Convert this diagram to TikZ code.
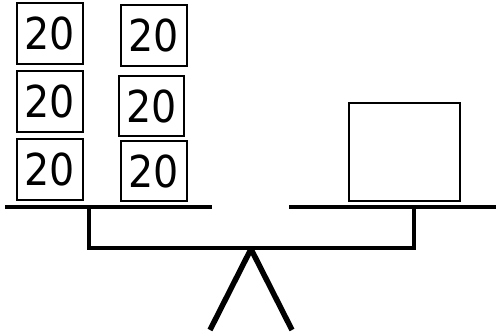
\documentclass[tikz,border=0pt]{standalone}
\usepackage{fontspec}
\setmainfont{DejaVu Sans Condensed}
\begin{document}
\begin{tikzpicture}[x=1pt,y=-1pt,
  weight/.style={draw,line width=1.4pt,inner sep=0pt,font=\fontsize{44}{44}\selectfont},
  beam/.style={line width=4.2pt},
  leg/.style={line width=5.5pt,line join=bevel}]
\useasboundingbox (0,0) rectangle (496,334);
\node[weight,minimum width=66,minimum height=61] (a1) at (50,33.5) {20};
\node[weight,minimum width=66,minimum height=61] (a2) at (50,101.5) {20};
\node[weight,minimum width=66,minimum height=61] (a3) at (50,169.5) {20};
\node[weight,minimum width=66,minimum height=61] (b1) at (154,35.5) {20};
\node[weight,minimum width=65,minimum height=60] (b2) at (151.5,106) {20};
\node[weight,minimum width=66,minimum height=60] (b3) at (154,171) {20};
\node[draw,line width=1.4pt,minimum width=111,minimum height=98,inner sep=0pt] (big) at (404.5,152) {};
\coordinate (ll) at (5,207.3);
\coordinate (lr) at (212,207.3);
\coordinate (rl) at (289,207.3);
\coordinate (rr) at (496,207.3);
\coordinate (lv) at (89,207.3);
\coordinate (rv) at (414,207.3);
\coordinate (bar) at (250,248);
\coordinate (apex) at (251,249);
\coordinate (f1) at (210,330);
\coordinate (f2) at (292,330);
\draw[beam] (ll) -- (lr);
\draw[beam] (rl) -- (rr);
\draw[beam] (lv) -- (lv |- bar) -- (rv |- bar) -- (rv);
\draw[leg] (f1) -- (apex) -- (f2);
\end{tikzpicture}
\end{document}
